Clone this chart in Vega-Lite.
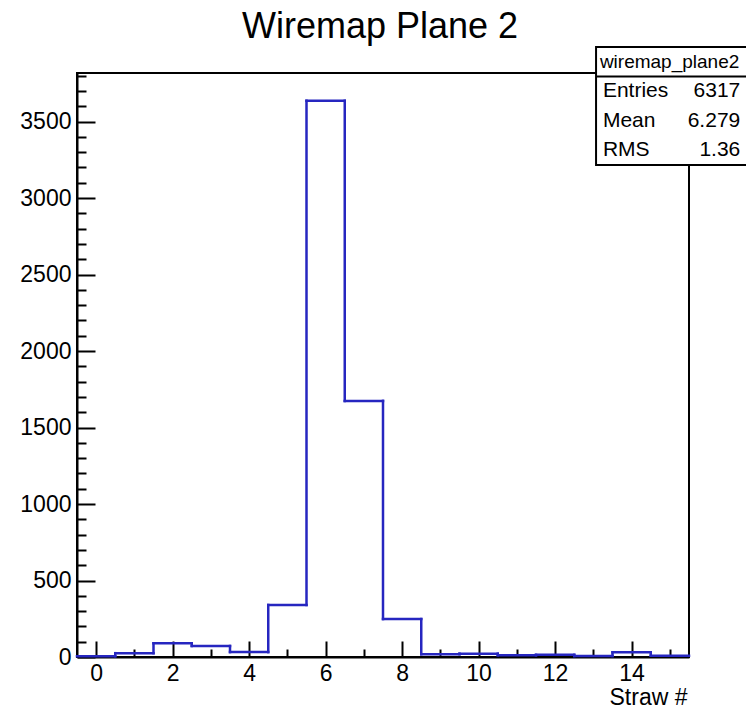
{
  "$schema": "https://vega.github.io/schema/vega-lite/v6.json",
  "width": 612,
  "height": 584,
  "autosize": {"type": "none"},
  "padding": {"left": 77, "top": 73, "right": 57, "bottom": 54},
  "background": "white",
  "title": {
    "text": "Wiremap Plane 2",
    "font": "Liberation Sans",
    "fontSize": 36,
    "fontWeight": "normal",
    "color": "black",
    "anchor": "middle",
    "baseline": "alphabetic",
    "offset": -28,
    "dx": -3
  },
  "config": {
    "view": {"stroke": "black", "strokeWidth": 2},
    "axis": {
      "domainColor": "black",
      "domainWidth": 2,
      "tickColor": "black",
      "tickWidth": 2,
      "tickCount": 200,
      "labelFont": "Liberation Sans",
      "labelFontSize": 23,
      "labelColor": "black",
      "labelFlush": false,
      "labelOverlap": false,
      "labelBound": false,
      "titleFont": "Liberation Sans",
      "titleFontSize": 23,
      "titleFontWeight": "normal",
      "titleColor": "black",
      "grid": false
    }
  },
  "datasets": {
    "hist": [
      {"lo": -0.5, "hi": 0.5, "count": 5},
      {"lo": 0.5, "hi": 1.5, "count": 25},
      {"lo": 1.5, "hi": 2.5, "count": 90},
      {"lo": 2.5, "hi": 3.5, "count": 72},
      {"lo": 3.5, "hi": 4.5, "count": 32},
      {"lo": 4.5, "hi": 5.5, "count": 340},
      {"lo": 5.5, "hi": 6.5, "count": 3635},
      {"lo": 6.5, "hi": 7.5, "count": 1674},
      {"lo": 7.5, "hi": 8.5, "count": 248},
      {"lo": 8.5, "hi": 9.5, "count": 18},
      {"lo": 9.5, "hi": 10.5, "count": 22},
      {"lo": 10.5, "hi": 11.5, "count": 11},
      {"lo": 11.5, "hi": 12.5, "count": 14},
      {"lo": 12.5, "hi": 13.5, "count": 6},
      {"lo": 13.5, "hi": 14.5, "count": 31},
      {"lo": 14.5, "hi": 15.5, "count": 8}
    ],
    "stats": [
      {"stat": "wiremap_plane2", "val": ""},
      {"stat": "Entries", "val": "6317"},
      {"stat": "Mean", "val": "6.279"},
      {"stat": "RMS", "val": "1.36"}
    ]
  },
  "layer": [
    {
      "data": {"name": "hist"},
      "transform": [
        {"window": [{"op": "lag", "field": "count", "as": "prev"}], "sort": [{"field": "lo", "order": "ascending"}]}
      ],
      "layer": [
        {
          "mark": {"type": "rule", "color": "#2626c0", "strokeWidth": 2.5, "strokeCap": "square"},
          "encoding": {
            "x": {
              "field": "lo",
              "type": "quantitative",
              "scale": {"domain": [-0.5, 15.5], "nice": false, "zero": false},
              "axis": {
                "values": [0, 0.5, 1, 1.5, 2, 2.5, 3, 3.5, 4, 4.5, 5, 5.5, 6, 6.5, 7, 7.5, 8, 8.5, 9, 9.5, 10, 10.5, 11, 11.5, 12, 12.5, 13, 13.5, 14, 14.5, 15],
                "tickCount": 200,
                "format": "d",
                "labelExpr": "datum.value % 2 === 0 ? datum.label : ''",
                "tickSize": {"condition": {"test": "datum.value % 2 === 0", "value": -16}, "value": -8},
                "labelPadding": 21,
                "title": "Straw #",
                "titleAnchor": "end",
                "titleAlign": "right",
                "titleBaseline": "alphabetic",
                "titleX": 610,
                "titleY": 47
              }
            },
            "x2": {"field": "hi"},
            "y": {
              "field": "count",
              "type": "quantitative",
              "scale": {"domain": [0, 3817], "nice": false, "zero": true},
              "axis": {
                "values": [0, 100, 200, 300, 400, 500, 600, 700, 800, 900, 1000, 1100, 1200, 1300, 1400, 1500, 1600, 1700, 1800, 1900, 2000, 2100, 2200, 2300, 2400, 2500, 2600, 2700, 2800, 2900, 3000, 3100, 3200, 3300, 3400, 3500, 3600, 3700, 3800],
                "tickCount": 200,
                "labelExpr": "datum.value % 500 === 0 ? datum.value : ''",
                "tickSize": {"condition": {"test": "datum.value % 500 === 0", "value": -18}, "value": -9},
                "labelPadding": 24,
                "title": null
              }
            }
          }
        },
        {
          "mark": {"type": "rule", "color": "#2626c0", "strokeWidth": 2.5, "strokeCap": "square"},
          "encoding": {
            "x": {"field": "lo", "type": "quantitative"},
            "y": {"field": "prev", "type": "quantitative"},
            "y2": {"field": "count"}
          }
        }
      ]
    },
    {
      "data": {"name": "stats"},
      "layer": [
        {
          "transform": [{"filter": "datum.stat === 'wiremap_plane2'"}],
          "mark": {"type": "rect", "fill": "white", "stroke": "black", "strokeWidth": 2},
          "encoding": {
            "x": {"datum": 13.07, "type": "quantitative"},
            "x2": {"datum": 17.3},
            "y": {
              "datum": "wiremap_plane2",
              "type": "nominal",
              "bandPosition": 0,
              "scale": {"type": "band", "domain": ["wiremap_plane2", "Entries", "Mean", "RMS"], "range": [-26, 92], "paddingInner": 0, "paddingOuter": 0},
              "axis": null
            },
            "y2": {"datum": "RMS", "bandPosition": 1}
          }
        },
        {
          "transform": [{"filter": "datum.stat === 'wiremap_plane2'"}],
          "mark": {"type": "rule", "color": "black", "strokeWidth": 2},
          "encoding": {
            "x": {"datum": 13.07, "type": "quantitative"},
            "x2": {"datum": 17.3},
            "y": {"datum": "Entries", "type": "nominal", "bandPosition": 0}
          }
        },
        {
          "transform": [{"filter": "datum.stat === 'wiremap_plane2'"}],
          "mark": {"type": "text", "align": "left", "baseline": "middle", "font": "Liberation Sans", "fontSize": 19, "color": "black"},
          "encoding": {
            "x": {"datum": 13.17, "type": "quantitative"},
            "y": {"field": "stat", "type": "nominal"},
            "text": {"field": "stat"}
          }
        },
        {
          "transform": [{"filter": "datum.stat !== 'wiremap_plane2'"}],
          "mark": {"type": "text", "align": "left", "baseline": "middle", "font": "Liberation Sans", "fontSize": 21, "color": "black"},
          "encoding": {
            "x": {"datum": 13.25, "type": "quantitative"},
            "y": {"field": "stat", "type": "nominal"},
            "text": {"field": "stat"}
          }
        },
        {
          "transform": [{"filter": "datum.stat !== 'wiremap_plane2'"}],
          "mark": {"type": "text", "align": "right", "baseline": "middle", "font": "Liberation Sans", "fontSize": 21, "color": "black"},
          "encoding": {
            "x": {"datum": 16.84, "type": "quantitative"},
            "y": {"field": "stat", "type": "nominal"},
            "text": {"field": "val"}
          }
        }
      ]
    }
  ],
  "resolve": {"scale": {"y": "independent"}}
}
